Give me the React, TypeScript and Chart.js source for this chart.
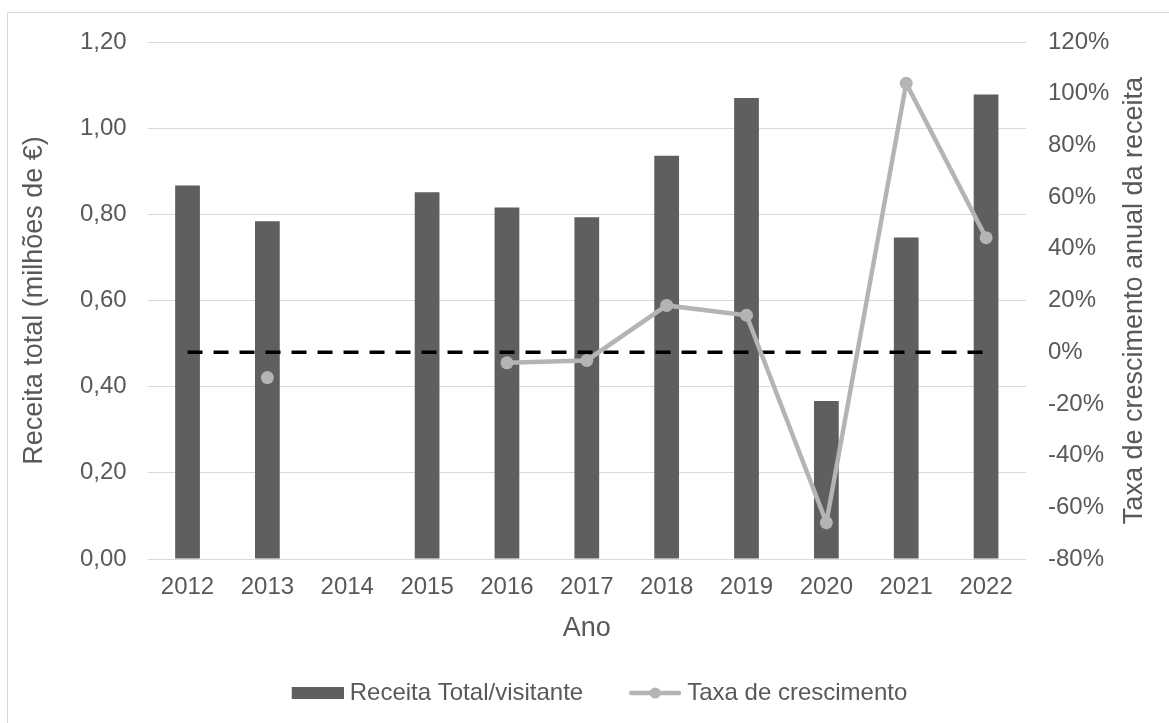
import React, { useEffect, useRef } from 'react';
import { Chart, registerables } from 'chart.js';

Chart.register(...registerables);

// ---- data ----
const years = ['2012', '2013', '2014', '2015', '2016', '2017', '2018', '2019', '2020', '2021', '2022'];
const receitaPorVisitante = [0.867, 0.784, null, 0.851, 0.816, 0.793, 0.936, 1.07, 0.367, 0.746, 1.078];
const taxaCrescimento = [null, -9.8, null, null, -4.1, -3.2, 18.1, 14.3, -65.9, 104.0, 44.3];
const linhaZero = [0, 0, 0, 0, 0, 0, 0, 0, 0, 0, 0];

const seriesNames = ['Receita Total/visitante', 'Taxa de crescimento'];
const xTitle = 'Ano';
const leftTitle = 'Receita total (milhões de €)';
const rightTitle = 'Taxa de crescimento anual da receita';

// ---- style ----
const FONT = "'Liberation Sans', Arial, sans-serif";
const TEXT = '#595959';
const BAR = '#5F5F5F';
const LINE = '#B4B4B4';
const GRID = '#D9D9D9';

function barIcon() {
  const c = document.createElement('canvas');
  c.width = 92; c.height = 14;
  const g = c.getContext('2d')!;
  g.fillStyle = BAR;
  g.fillRect(40, 1, 52, 12);
  return c;
}
function lineIcon() {
  const c = document.createElement('canvas');
  c.width = 92; c.height = 14;
  const g = c.getContext('2d')!;
  g.strokeStyle = LINE;
  g.lineWidth = 4.5;
  g.lineCap = 'round';
  g.beginPath(); g.moveTo(42, 7); g.lineTo(90, 7); g.stroke();
  g.fillStyle = LINE;
  g.beginPath(); g.arc(66, 7, 5.5, 0, Math.PI * 2); g.fill();
  return c;
}

const rightTitlePlugin = {
  id: 'rightTitle',
  afterDraw(chart: any) {
    const s = chart.scales.y1;
    const ctx = chart.ctx;
    ctx.save();
    ctx.translate(1127, (s.top + s.bottom) / 2);
    ctx.rotate(-Math.PI / 2);
    ctx.font = `27px ${FONT}`;
    ctx.fillStyle = TEXT;
    ctx.textAlign = 'center';
    ctx.textBaseline = 'middle';
    ctx.fillText(rightTitle, 0, 0);
    ctx.restore();
  },
};

export default function App() {
  const ref = useRef<HTMLCanvasElement>(null);
  useEffect(() => {
    const icons = [barIcon(), lineIcon()];
    const chart = new Chart(ref.current!, {
      type: 'bar',
      data: {
        labels: years,
        datasets: [
          {
            type: 'bar',
            label: seriesNames[0],
            data: receitaPorVisitante,
            backgroundColor: BAR,
            yAxisID: 'y',
            categoryPercentage: 1,
            barPercentage: 0.31,
            order: 2,
          } as any,
          {
            type: 'line',
            label: seriesNames[1],
            data: taxaCrescimento,
            borderColor: LINE,
            backgroundColor: LINE,
            borderWidth: 4.5,
            pointRadius: 6.5,
            pointBackgroundColor: LINE,
            pointBorderColor: LINE,
            pointBorderWidth: 0,
            spanGaps: false,
            yAxisID: 'y1',
            order: 0,
          },
          {
            type: 'line',
            label: 'zero',
            data: linhaZero,
            borderColor: '#000000',
            borderWidth: 3.5,
            borderDash: [15, 11],
            pointRadius: 0,
            yAxisID: 'y1',
            order: 1,
          },
        ],
      },
      options: {
        responsive: false,
        animation: false,
        layout: { padding: { top: 29, left: 0, right: 12, bottom: 8 } },
        plugins: {
          tooltip: { enabled: false },
          legend: {
            position: 'bottom',
            labels: {
              usePointStyle: true,
              pointStyleWidth: 80,
              padding: 12,
              color: TEXT,
              font: { family: FONT, size: 24 },
              generateLabels: () =>
                seriesNames.map((t, i) => ({
                  text: t,
                  pointStyle: icons[i],
                  fillStyle: i === 0 ? BAR : LINE,
                  strokeStyle: i === 0 ? BAR : LINE,
                  lineWidth: 0,
                  hidden: false,
                  datasetIndex: i,
                  fontColor: TEXT,
                })),
            },
          },
        },
        scales: {
          x: {
            grid: { display: false, drawTicks: false },
            border: { display: false },
            ticks: { color: TEXT, font: { family: FONT, size: 24 }, padding: 14, maxRotation: 0 },
            title: {
              display: true,
              text: xTitle,
              color: TEXT,
              font: { family: FONT, size: 27 },
              padding: { top: 4, bottom: 24 },
            },
            afterFit: (s: any) => { s.height = 110; },
          },
          y: {
            position: 'left',
            min: 0,
            max: 1.2,
            grid: { color: GRID, lineWidth: 1, drawTicks: false },
            border: { display: false },
            ticks: {
              stepSize: 0.2,
              color: TEXT,
              font: { family: FONT, size: 24 },
              padding: 21,
              callback: (v: any) => Number(v).toFixed(2).replace('.', ','),
            },
            title: {
              display: true,
              text: leftTitle,
              color: TEXT,
              font: { family: FONT, size: 27 },
              padding: { top: 10, bottom: 0 },
            },
            afterFit: (s: any) => { s.width = 139.6; s.paddingTop = 0; s.paddingBottom = 0; },
          },
          y1: {
            position: 'right',
            min: -80,
            max: 120,
            grid: { display: false, drawTicks: false },
            border: { display: false },
            ticks: {
              stepSize: 20,
              color: TEXT,
              font: { family: FONT, size: 24 },
              padding: 22,
              callback: (v: any) => `${Math.round(Number(v))}%`,
            },
            afterFit: (s: any) => { s.width = 131; s.paddingTop = 0; s.paddingBottom = 0; },
          },
        },
      },
      plugins: [rightTitlePlugin],
    });
    return () => chart.destroy();
  }, []);

  return (
    <div
      style={{
        position: 'absolute',
        left: 7,
        top: 12,
        width: 1162,
        height: 711,
        borderLeft: '1px solid #D9D9D9',
        borderTop: '1px solid #D9D9D9',
        boxSizing: 'border-box',
        background: '#fff',
        overflow: 'hidden',
      }}
    >
      <canvas ref={ref} width={1161} height={710} style={{ display: 'block' }} />
    </div>
  );
}
